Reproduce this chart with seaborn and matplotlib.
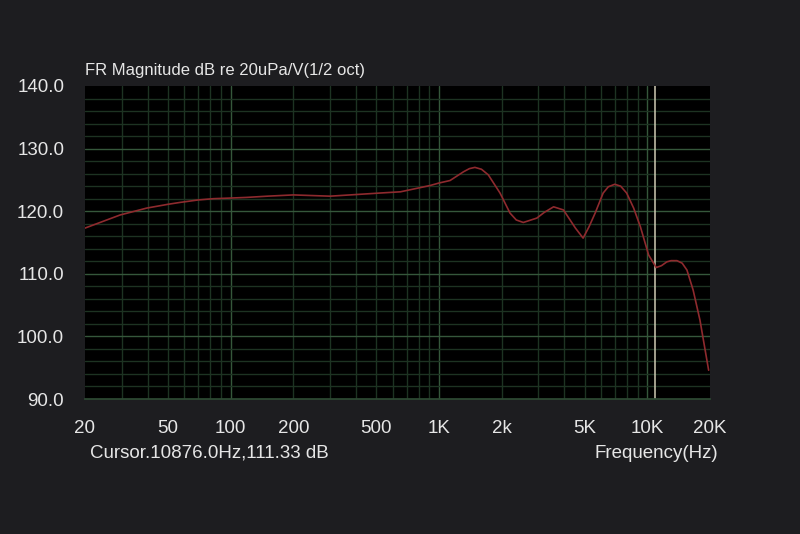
import matplotlib
matplotlib.use("Agg")
import matplotlib.pyplot as plt
import seaborn as sns
import numpy as np
import pandas as pd

# ---- data ----
freq_hz = [20, 29.5, 39.6, 50, 57.1, 70, 82.7, 100, 119, 150, 200, 300, 520, 654,
           906, 1000, 1130, 1312, 1400, 1488, 1600, 1726, 1964, 2193, 2350, 2540,
           2950, 3200, 3550, 3960, 4520, 4920, 5250, 5620, 6140, 6500, 6980,
           7450, 7960, 8600, 9270, 10150, 11040, 11700, 12400, 13000, 13880,
           14700, 15500, 16600, 17900, 19700]
level_db = [117.3, 119.4, 120.5, 121.1, 121.4, 121.8, 122.0, 122.1, 122.2, 122.4,
            122.6, 122.4, 122.9, 123.1, 124.1, 124.5, 124.9, 126.3, 126.8, 127.0,
            126.7, 125.8, 122.9, 119.7, 118.6, 118.2, 118.9, 119.8, 120.7, 120.2,
            117.3, 115.7, 117.5, 119.7, 122.9, 123.9, 124.3, 124.0, 122.9, 120.5,
            117.5, 113.0, 111.0, 111.3, 111.9, 112.1, 112.1, 111.7, 110.6, 107.4,
            102.6, 94.6]
x_ticks = [20, 50, 100, 200, 500, 1000, 2000, 5000, 10000, 20000]
x_tick_labels = ["20", "50", "100", "200", "500", "1K", "2k", "5K", "10K", "20K"]
y_ticks = [90, 100, 110, 120, 130, 140]
y_tick_labels = ["90.0", "100.0", "110.0", "120.0", "130.0", "140.0"]
cursor_hz = 10876.0
cursor_db = 111.33
title_text = "FR Magnitude dB re 20uPa/V(1/2 oct)"
xlabel_text = "Frequency(Hz)"

df = pd.DataFrame({"freq": freq_hz, "db": level_db})

sns.set_theme(style="dark")
BG = "#1d1d20"
TXT = "#e6e6e6"
narrow = ["Liberation Sans Narrow", "Liberation Sans", "DejaVu Sans"]
plt.rcParams["font.family"] = ["Liberation Sans", "DejaVu Sans"]

fig = plt.figure(figsize=(8, 5.34), dpi=100, facecolor=BG)
ax = fig.add_axes([85 / 800, 135 / 534, 625 / 800, 313 / 534])
ax.set_facecolor("#000000")

# grid
minor_c = "#1d3322"
major_c = "#35573b"
for dec in [10, 100, 1000, 10000]:
    for m in range(1, 10):
        f = dec * m
        if 20 < f < 20000:
            bright = (m == 1)
            ax.axvline(f, color=major_c if bright else minor_c,
                       lw=1.0, zorder=0)
for v in range(90, 141, 2):
    if 90 < v < 140:
        ax.axhline(v, color=major_c if v % 10 == 0 else minor_c,
                   lw=1.0, zorder=0)

ax.axvline(cursor_hz, color="#cfc9b4", lw=1.1, zorder=1)

sns.lineplot(data=df, x="freq", y="db", ax=ax, color="#8e2a2e", lw=1.2,
             zorder=3)

ax.set_xscale("log")
ax.set_xlim(20, 20000)
ax.set_ylim(90, 140)
ax.set_xticks(x_ticks)
ax.set_xticklabels(x_tick_labels)
ax.xaxis.set_minor_locator(matplotlib.ticker.NullLocator())
ax.set_yticks(y_ticks)
ax.set_yticklabels(y_tick_labels)
ax.grid(False)
ax.tick_params(axis="x", length=0, pad=15, colors=TXT, labelsize=13.5)
ax.tick_params(axis="y", length=0, pad=15, colors=TXT, labelsize=13.5)
for lab in ax.get_xticklabels() + ax.get_yticklabels():
    lab.set_family(narrow)
ax.set_xlabel("")
ax.set_ylabel("")
for s in ax.spines.values():
    s.set_visible(False)
ax.spines["bottom"].set_visible(True)
ax.spines["bottom"].set_color("#2e4a33")

fig.text(85 / 800, 1 - 70 / 534, title_text, color=TXT, fontsize=12,
         ha="left", va="center")
fig.text(90 / 800, 1 - 453 / 534,
         f"Cursor.{cursor_hz:.1f}Hz,{cursor_db:.2f} dB",
         color=TXT, fontsize=13.5, ha="left", va="center", family=narrow)
fig.text(718 / 800, 1 - 453 / 534, xlabel_text, color=TXT, fontsize=13.5,
         ha="right", va="center", family=narrow)

fig.savefig("out.png", dpi=100, facecolor=BG)
